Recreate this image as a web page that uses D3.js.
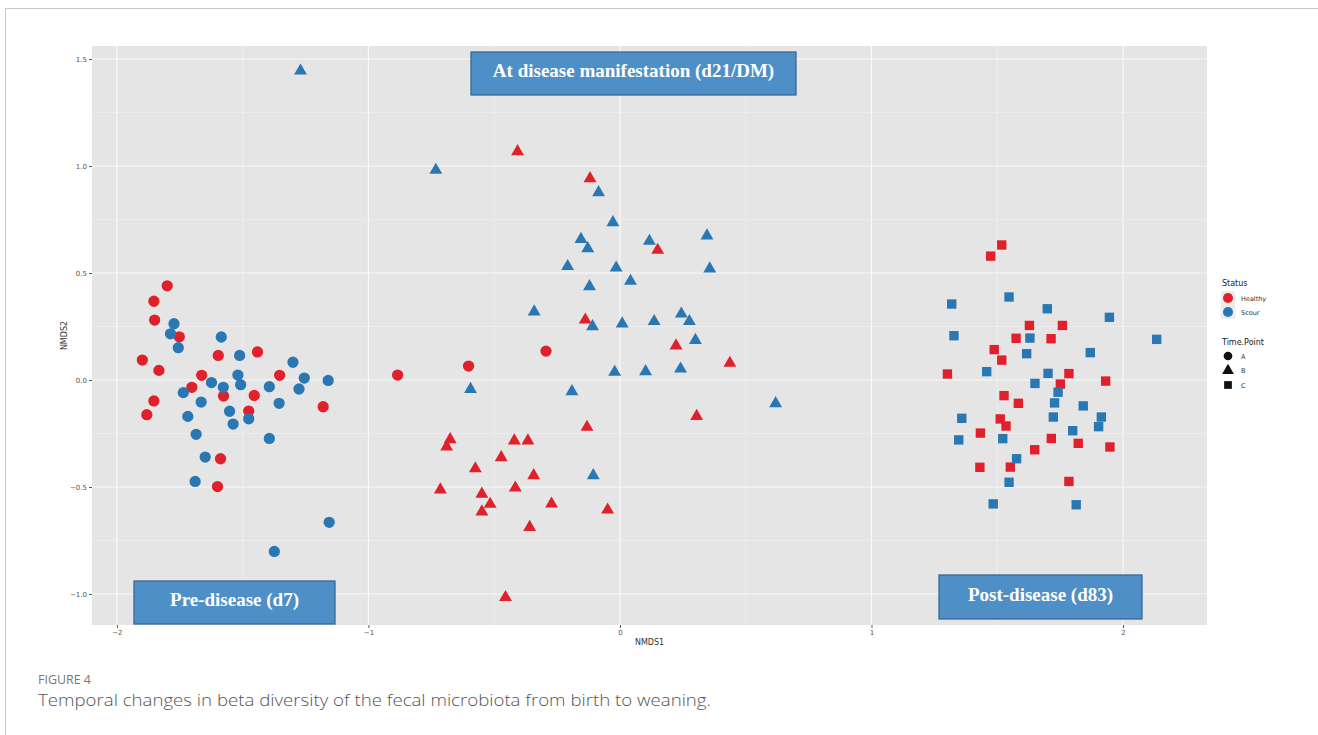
<!DOCTYPE html>
<html>
<head>
<meta charset="utf-8">
<script src="https://cdn.jsdelivr.net/npm/d3@7"></script>
<style>
  body { margin: 0; background: #fff; }
  svg { display: block; }
</style>
</head>
<body>
<svg id="chart" width="1318" height="735"></svg>
<script>
// NMDS ordination coordinates, grouped by health status and sampling time point
const timePoints = ["A", "B", "C"];
const statuses = ["Healthy", "Scour"];

const healthyA = [
  [-1.80, 0.44], [-1.853, 0.368], [-1.850, 0.280], [-1.752, 0.202], [-1.899, 0.093],
  [-1.833, 0.045], [-1.597, 0.115], [-1.441, 0.131], [-1.663, 0.022], [-1.702, -0.034],
  [-1.576, -0.075], [-1.454, -0.072], [-1.353, 0.022], [-1.853, -0.098], [-1.881, -0.162],
  [-1.476, -0.145], [-1.180, -0.125], [-1.588, -0.368], [-1.600, -0.498], [-0.884, 0.023],
  [-0.602, 0.065], [-0.294, 0.135]
];
const scourA = [
  [-1.773, 0.263], [-1.787, 0.216], [-1.756, 0.151], [-1.585, 0.201], [-1.512, 0.115],
  [-1.519, 0.023], [-1.508, -0.022], [-1.624, -0.012], [-1.577, -0.034], [-1.736, -0.059],
  [-1.665, -0.103], [-1.718, -0.170], [-1.552, -0.146], [-1.538, -0.206], [-1.476, -0.181],
  [-1.685, -0.254], [-1.394, -0.031], [-1.355, -0.109], [-1.300, 0.083], [-1.255, 0.009],
  [-1.276, -0.042], [-1.160, -0.002], [-1.394, -0.273], [-1.649, -0.360], [-1.689, -0.474],
  [-1.156, -0.665], [-1.374, -0.801]
];
const healthyB = [
  [-0.407, 1.068], [-0.119, 0.942], [0.150, 0.607], [-0.138, 0.281], [0.223, 0.160],
  [0.437, 0.079], [0.305, -0.169], [-0.131, -0.220], [-0.675, -0.278], [-0.689, -0.312],
  [-0.420, -0.284], [-0.366, -0.284], [-0.472, -0.362], [-0.575, -0.414], [-0.343, -0.446],
  [-0.714, -0.513], [-0.549, -0.533], [-0.416, -0.504], [-0.516, -0.580], [-0.549, -0.616],
  [-0.272, -0.579], [-0.049, -0.607], [-0.359, -0.688], [-0.455, -1.016]
];
const scourB = [
  [-1.270, 1.445], [-0.732, 0.981], [-0.085, 0.876], [-0.028, 0.736], [-0.155, 0.658],
  [-0.128, 0.615], [0.117, 0.649], [0.346, 0.674], [-0.208, 0.531], [-0.015, 0.524],
  [0.357, 0.520], [0.042, 0.462], [-0.121, 0.437], [-0.341, 0.319], [-0.109, 0.250],
  [0.009, 0.263], [0.136, 0.274], [0.244, 0.309], [0.276, 0.274], [0.300, 0.186],
  [-0.021, 0.037], [0.102, 0.040], [0.241, 0.052], [-0.594, -0.043], [-0.191, -0.054],
  [0.619, -0.110], [-0.106, -0.446]
];
const healthyC = [
  [1.518, 0.631], [1.474, 0.579], [1.628, 0.255], [1.759, 0.255], [1.575, 0.195],
  [1.714, 0.193], [1.488, 0.142], [1.518, 0.093], [1.302, 0.028], [1.785, 0.030],
  [1.751, -0.019], [1.931, -0.005], [1.527, -0.073], [1.584, -0.109], [1.512, -0.182],
  [1.535, -0.215], [1.433, -0.248], [1.715, -0.273], [1.822, -0.296], [1.948, -0.313],
  [1.649, -0.326], [1.431, -0.408], [1.552, -0.407], [1.785, -0.474]
];
const scourC = [
  [1.319, 0.355], [1.547, 0.388], [1.699, 0.333], [1.946, 0.293], [1.328, 0.207],
  [1.630, 0.196], [2.134, 0.190], [1.617, 0.123], [1.870, 0.128], [1.458, 0.039],
  [1.702, 0.031], [1.650, -0.016], [1.742, -0.057], [1.728, -0.107], [1.842, -0.121],
  [1.359, -0.179], [1.723, -0.173], [1.914, -0.173], [1.903, -0.218], [1.800, -0.237],
  [1.347, -0.280], [1.522, -0.274], [1.577, -0.368], [1.547, -0.478], [1.484, -0.579],
  [1.814, -0.583]
];

const xTicks = [-2, -1, 0, 1, 2];
const yTicks = [-1.0, -0.5, 0.0, 0.5, 1.0, 1.5];
const xMinor = [-1.5, -0.5, 0.5, 1.5];
const yMinor = [-0.75, -0.25, 0.25, 0.75, 1.25];

const phaseLabels = ["Pre-disease (d7)", "At disease manifestation (d21/DM)", "Post-disease (d83)"];

// Tidy rows for drawing
const groups = [
  { status: "Healthy", time: "A", pts: healthyA },
  { status: "Scour", time: "A", pts: scourA },
  { status: "Healthy", time: "B", pts: healthyB },
  { status: "Scour", time: "B", pts: scourB },
  { status: "Healthy", time: "C", pts: healthyC },
  { status: "Scour", time: "C", pts: scourC }
];
const rows = groups.flatMap(g => g.pts.map(([x, y]) => ({ x, y, status: g.status, time: g.time })));

const svg = d3.select("#chart");

// Figure frame
svg.append("line").attr("x1", 5).attr("x2", 1318).attr("y1", 8.5).attr("y2", 8.5)
  .attr("stroke", "#c8c8c8").attr("stroke-width", 1);
svg.append("line").attr("x1", 5.5).attr("x2", 5.5).attr("y1", 8).attr("y2", 735)
  .attr("stroke", "#c8c8c8").attr("stroke-width", 1);

const panel = { left: 92, top: 46, right: 1207, bottom: 625 };

const x = d3.scaleLinear().domain([-2.099, 2.334]).range([panel.left, panel.right]);
const y = d3.scaleLinear().domain([-1.145, 1.561]).range([panel.bottom, panel.top]);

const color = d3.scaleOrdinal().domain(statuses).range(["#e0202b", "#2a78b3"]);
const shape = d3.scaleOrdinal().domain(timePoints)
  .range([d3.symbolCircle, d3.symbolTriangle, d3.symbolSquare]);
const symSize = { A: 100, B: 72, C: 88 };

// Panel background and grid
svg.append("rect")
  .attr("x", panel.left).attr("y", panel.top)
  .attr("width", panel.right - panel.left).attr("height", panel.bottom - panel.top)
  .attr("fill", "#e5e5e5");

const grid = svg.append("g");
grid.selectAll(".xmin").data(xMinor).join("line")
  .attr("x1", d => x(d)).attr("x2", d => x(d))
  .attr("y1", panel.top).attr("y2", panel.bottom)
  .attr("stroke", "#f1f1f1").attr("stroke-width", 0.6);
grid.selectAll(".ymin").data(yMinor).join("line")
  .attr("y1", d => y(d)).attr("y2", d => y(d))
  .attr("x1", panel.left).attr("x2", panel.right)
  .attr("stroke", "#f1f1f1").attr("stroke-width", 0.6);
grid.selectAll(".xmaj").data(xTicks).join("line")
  .attr("x1", d => x(d)).attr("x2", d => x(d))
  .attr("y1", panel.top).attr("y2", panel.bottom)
  .attr("stroke", "#fafafa").attr("stroke-width", 1.1);
grid.selectAll(".ymaj").data(yTicks).join("line")
  .attr("y1", d => y(d)).attr("y2", d => y(d))
  .attr("x1", panel.left).attr("x2", panel.right)
  .attr("stroke", "#fafafa").attr("stroke-width", 1.1);

// Axes
const xAxis = svg.append("g")
  .attr("transform", `translate(0,${panel.bottom})`)
  .call(d3.axisBottom(x).tickValues(xTicks).tickFormat(d3.format("d")).tickSize(3).tickPadding(2));
const yAxis = svg.append("g")
  .attr("transform", `translate(${panel.left},0)`)
  .call(d3.axisLeft(y).tickValues(yTicks).tickFormat(d3.format(".1f")).tickSize(3).tickPadding(2));
[xAxis, yAxis].forEach(a => {
  a.select(".domain").remove();
  a.selectAll(".tick line").attr("stroke", "#555");
  a.selectAll(".tick text").attr("fill", "#555").attr("font-size", 7)
    .attr("font-family", "DejaVu Sans, sans-serif");
});

svg.append("text").attr("x", (panel.left + panel.right) / 2).attr("y", 645)
  .attr("text-anchor", "middle").attr("font-family", "DejaVu Sans, sans-serif")
  .attr("font-size", 8).attr("fill", "#333").text("NMDS1");
svg.append("text").attr("transform", `translate(67,${(panel.top + panel.bottom) / 2}) rotate(-90)`)
  .attr("text-anchor", "middle").attr("font-family", "DejaVu Sans, sans-serif")
  .attr("font-size", 8).attr("fill", "#333").text("NMDS2");

// Points
svg.append("g").selectAll("path").data(rows).join("path")
  .attr("transform", d => `translate(${x(d.x)},${y(d.y)})`)
  .attr("d", d => d3.symbol().type(shape(d.time)).size(symSize[d.time])())
  .attr("fill", d => color(d.status));

// Phase annotation boxes
const boxes = [
  { label: phaseLabels[0], x0: 134, y0: 581, w: 201, h: 43 },
  { label: phaseLabels[1], x0: 471, y0: 52, w: 325, h: 43 },
  { label: phaseLabels[2], x0: 939, y0: 575, w: 203, h: 44 }
];
const bg = svg.append("g").selectAll("g").data(boxes).join("g");
bg.append("rect")
  .attr("x", d => d.x0).attr("y", d => d.y0).attr("width", d => d.w).attr("height", d => d.h)
  .attr("fill", "#4f8fc8").attr("stroke", "#3b6894").attr("stroke-width", 1.3);
bg.append("text")
  .attr("x", d => d.x0 + d.w / 2).attr("y", d => d.y0 + d.h / 2 + 3.5)
  .attr("text-anchor", "middle").attr("fill", "#fff")
  .attr("font-family", "Liberation Serif, Times New Roman, serif")
  .attr("font-weight", "bold").attr("font-size", 19)
  .text(d => d.label);

// Legend
const lg = svg.append("g").attr("font-family", "DejaVu Sans, sans-serif");
lg.append("text").attr("x", 1222).attr("y", 286).attr("font-size", 8).attr("fill", "#222").text("Status");
statuses.forEach((s, i) => {
  const cy = 298 + i * 14;
  lg.append("rect").attr("x", 1221).attr("y", cy - 7).attr("width", 14).attr("height", 14).attr("fill", "#ececec");
  lg.append("path").attr("transform", `translate(1228,${cy})`)
    .attr("d", d3.symbol().type(d3.symbolCircle).size(80)()).attr("fill", color(s));
  lg.append("text").attr("x", 1241).attr("y", cy + 2.5).attr("font-size", 6.5).attr("fill", "#333").text(s);
});
lg.append("text").attr("x", 1222).attr("y", 345).attr("font-size", 8).attr("fill", "#222").text("Time.Point");
timePoints.forEach((t, i) => {
  const cy = 356 + i * 14.5;
  lg.append("path").attr("transform", `translate(1228,${cy})`)
    .attr("d", d3.symbol().type(shape(t)).size(60)()).attr("fill", "#111");
  lg.append("text").attr("x", 1241).attr("y", cy + 2.5).attr("font-size", 6.5).attr("fill", "#333").text(t);
});

// Caption
svg.append("text").attr("x", 38).attr("y", 684)
  .attr("font-family", "Open Sans, sans-serif").attr("font-size", 12)
  .attr("textLength", 53).attr("lengthAdjust", "spacingAndGlyphs")
  .attr("fill", "#777").text("FIGURE 4");
svg.append("text").attr("x", 38).attr("y", 706)
  .attr("font-family", "Open Sans, sans-serif").attr("font-size", 16.5).attr("font-weight", 300)
  .attr("textLength", 673).attr("lengthAdjust", "spacingAndGlyphs")
  .attr("fill", "#555").text("Temporal changes in beta diversity of the fecal microbiota from birth to weaning.");
</script>
</body>
</html>
